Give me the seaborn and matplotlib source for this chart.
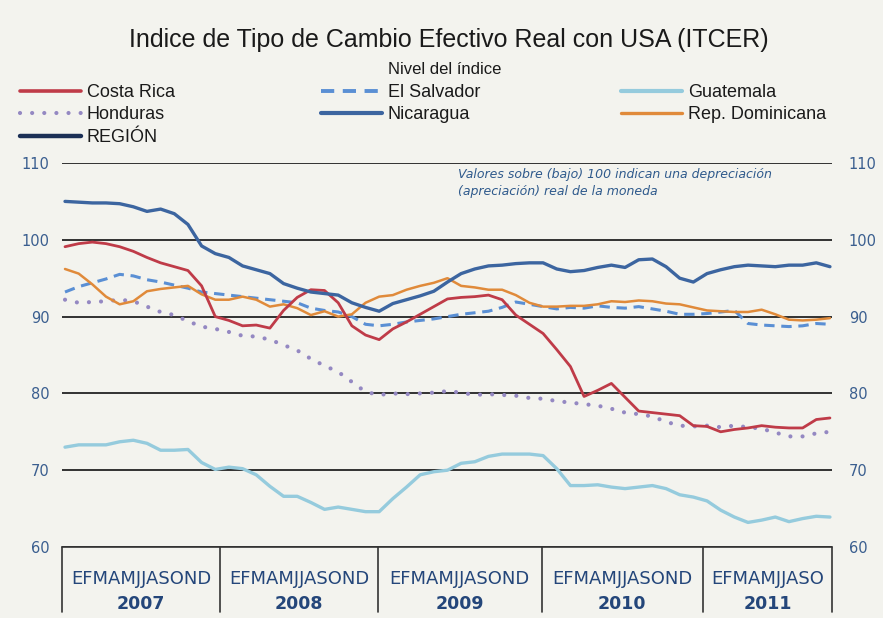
import numpy as np
import pandas as pd
import matplotlib
matplotlib.use("Agg")
import matplotlib.pyplot as plt
import matplotlib.transforms as mtransforms
from matplotlib.lines import Line2D
import seaborn as sns

# ---------------- data ----------------
years = ["2007", "2008", "2009", "2010", "2011"]
month_labels = ["EFMAMJJASOND", "EFMAMJJASOND", "EFMAMJJASOND", "EFMAMJJASOND", "EFMAMJJASO"]

costa_rica = [99.1, 99.5, 99.7, 99.5, 99.1, 98.5, 97.7, 97.0, 96.5, 96.0, 94.0, 90.0,
              89.5, 88.8, 88.9, 88.5, 90.8, 92.5, 93.5, 93.4, 91.8, 88.8, 87.6, 87.0,
              88.4, 89.3, 90.3, 91.3, 92.3, 92.5, 92.6, 92.8, 92.2, 90.2, 89.0, 87.8,
              85.7, 83.5, 79.6, 80.4, 81.3, 79.5, 77.7, 77.5, 77.3, 77.1, 75.8, 75.7,
              75.0, 75.3, 75.5, 75.8, 75.6, 75.5, 75.5, 76.6, 76.8]
el_salvador = [93.2, 93.9, 94.4, 94.9, 95.5, 95.3, 94.8, 94.5, 94.1, 93.7, 93.2, 93.0,
               92.8, 92.6, 92.4, 92.2, 92.0, 91.8, 91.1, 90.8, 90.6, 90.0, 89.0, 88.8,
               89.0, 89.3, 89.5, 89.7, 90.0, 90.3, 90.5, 90.7, 91.2, 91.9, 91.6, 91.3,
               91.0, 91.2, 91.1, 91.4, 91.2, 91.1, 91.3, 91.0, 90.7, 90.3, 90.3, 90.4,
               90.6, 90.8, 89.1, 88.9, 88.8, 88.7, 88.8, 89.1, 89.0]
guatemala = [73.0, 73.3, 73.3, 73.3, 73.7, 73.9, 73.5, 72.6, 72.6, 72.7, 71.0, 70.1,
             70.4, 70.2, 69.4, 67.9, 66.6, 66.6, 65.8, 64.9, 65.2, 64.9, 64.6, 64.6,
             66.3, 67.8, 69.4, 69.8, 70.0, 70.9, 71.1, 71.8, 72.1, 72.1, 72.1, 71.9,
             70.2, 68.0, 68.0, 68.1, 67.8, 67.6, 67.8, 68.0, 67.6, 66.8, 66.5, 66.0,
             64.8, 63.9, 63.2, 63.5, 63.9, 63.3, 63.7, 64.0, 63.9]
honduras = [92.2, 91.8, 91.9, 92.0, 92.2, 92.0, 91.3, 90.6, 90.2, 89.4, 88.7, 88.4,
            88.0, 87.5, 87.4, 87.0, 86.3, 85.6, 84.5, 83.6, 82.8, 81.5, 80.2, 79.8,
            80.0, 79.9, 80.0, 80.1, 80.3, 80.1, 79.8, 79.9, 79.8, 79.7, 79.4, 79.3,
            79.0, 78.8, 78.6, 78.4, 78.0, 77.5, 77.3, 77.0, 76.3, 75.8, 75.7, 75.8,
            75.6, 75.8, 75.6, 75.4, 74.9, 74.4, 74.4, 74.8, 75.0]
nicaragua = [105.0, 104.9, 104.8, 104.8, 104.7, 104.3, 103.7, 104.0, 103.4, 102.0, 99.2, 98.2,
             97.7, 96.6, 96.1, 95.6, 94.3, 93.7, 93.2, 93.0, 92.8, 91.8, 91.2, 90.7,
             91.7, 92.2, 92.7, 93.3, 94.5, 95.6, 96.2, 96.6, 96.7, 96.9, 97.0, 97.0,
             96.2, 95.85, 96.0, 96.4, 96.7, 96.4, 97.4, 97.5, 96.5, 95.0, 94.5, 95.6,
             96.1, 96.5, 96.7, 96.6, 96.5, 96.7, 96.7, 97.0, 96.5]
rep_dominicana = [96.2, 95.6, 94.2, 92.6, 91.6, 92.0, 93.3, 93.6, 93.8, 94.0, 92.9, 92.2,
                  92.2, 92.6, 92.2, 91.3, 91.6, 91.1, 90.2, 90.7, 90.0, 90.3, 91.8, 92.6,
                  92.8, 93.5, 94.0, 94.4, 95.0, 94.0, 93.8, 93.5, 93.5, 92.8, 91.8, 91.3,
                  91.3, 91.4, 91.4, 91.6, 92.0, 91.9, 92.1, 92.0, 91.7, 91.6, 91.2, 90.8,
                  90.7, 90.6, 90.6, 90.9, 90.3, 89.6, 89.5, 89.6, 89.8]
yticks = [60, 70, 80, 90, 100, 110]

series = {
    "Costa Rica": costa_rica,
    "El Salvador": el_salvador,
    "Guatemala": guatemala,
    "Honduras": honduras,
    "Nicaragua": nicaragua,
    "Rep. Dominicana": rep_dominicana,
}
n = len(costa_rica)
df = pd.concat([pd.DataFrame({"mes": np.arange(n), "valor": v, "pais": k})
                for k, v in series.items()], ignore_index=True)

styles = {
    "Costa Rica": dict(color="#bf3b48", lw=2.0, ls="-"),
    "El Salvador": dict(color="#5a8fd4", lw=2.2, ls=(0, (3.4, 2.2))),
    "Guatemala": dict(color="#95cbdd", lw=2.4, ls="-"),
    "Honduras": dict(color="#9488c2", lw=3.0, ls=(0, (0.01, 2.9))),
    "Nicaragua": dict(color="#3c65a0", lw=2.4, ls="-"),
    "Rep. Dominicana": dict(color="#e08a3a", lw=1.8, ls="-"),
}
region_color = "#1b2f55"

BG = "#f3f3ee"
NAVY = "#24467a"
TICKC = "#3a5e8f"
SANS = ["Liberation Sans", "DejaVu Sans"]

sns.set_style("white")
plt.rcParams["font.family"] = ["DejaVu Sans"]

W, H = 883, 618
fig = plt.figure(figsize=(W / 100, H / 100), dpi=100, facecolor=BG)
L, R, T, B = 62, 832, 163, 547
ax = fig.add_axes([L / W, 1 - B / H, (R - L) / W, (B - T) / H])
ax.set_facecolor(BG)

draw_order = ["Guatemala", "Honduras", "El Salvador", "Rep. Dominicana", "Costa Rica", "Nicaragua"]
for name in draw_order:
    st = styles[name]
    line_kw = dict(color=st["color"], linewidth=st["lw"], linestyle=st["ls"])
    if name == "Honduras":
        line_kw["dash_capstyle"] = "round"
    sns.lineplot(data=df[df["pais"] == name], x="mes", y="valor", ax=ax,
                 legend=False, **line_kw)

x0, x1 = -0.22, 56.15
ax.set_xlim(x0, x1)
ax.set_ylim(60, 110)
ax.set_yticks(yticks)
ax.set_xticks([])
ax.set_xlabel("")
ax.set_ylabel("")
for s in ax.spines.values():
    s.set_visible(False)
ax.grid(axis="y", color="#111111", linewidth=1.2)
ax.grid(axis="x", visible=False)
ax.tick_params(axis="y", length=0, pad=9, labelsize=10.5, labelcolor=TICKC)

ax2 = ax.twinx()
ax2.set_ylim(60, 110)
ax2.set_yticks(yticks)
for s in ax2.spines.values():
    s.set_visible(False)
ax2.tick_params(axis="y", length=0, pad=12, labelsize=10.5, labelcolor=TICKC)
ax2.grid(False)

# bottom table (years / months)
trans = mtransforms.blended_transform_factory(ax.transData, ax.transAxes)
bounds = [x0, 11.35, 22.9, 34.9, 46.7, x1]
ybot = (B - 612) / (B - T)
ax.plot([x0, x1], [0, 0], transform=trans, color="#333333", lw=1.2, clip_on=False)
for bx in bounds:
    ax.plot([bx, bx], [0, ybot], transform=trans, color="#333333", lw=1.2, clip_on=False)
ym = (B - 579) / (B - T)
yy = (B - 604) / (B - T)
for i, yr in enumerate(years):
    cx = (bounds[i] + bounds[i + 1]) / 2
    ax.text(cx, ym, month_labels[i], transform=trans, ha="center", va="center",
            fontsize=13, color=NAVY)
    ax.text(cx, yy, yr, transform=trans, ha="center", va="center",
            fontsize=12.5, color=NAVY, fontweight="bold")

# annotation
fig.text(458 / W, 1 - 183 / H,
         "Valores sobre (bajo) 100 indican una depreciación\n(apreciación) real de la moneda",
         ha="left", va="center", fontsize=9, style="italic", color="#2f5a8c",
         linespacing=1.45)

# titles
fig.text(449 / W, 1 - 40 / H, "Indice de Tipo de Cambio Efectivo Real con USA (ITCER)",
         ha="center", va="center", fontsize=18, family=SANS, color="#1a1a1a")
fig.text(445 / W, 1 - 70 / H, "Nivel del índice", ha="center", va="center",
         fontsize=12, family=SANS, color="#1a1a1a")

# legends (three columns)
def mk(name):
    st = styles[name]
    kw = dict(color=st["color"], lw=st["lw"] + 0.6 if name != "Honduras" else st["lw"],
              ls=st["ls"])
    if name == "Honduras":
        kw["dash_capstyle"] = "round"
    return Line2D([], [], **kw)

cols = [
    ([mk("Costa Rica"), mk("Honduras"), Line2D([], [], color=region_color, lw=3.2)],
     ["Costa Rica", "Honduras", "REGIÓN"], 20),
    ([mk("El Salvador"), mk("Nicaragua")], ["El Salvador", "Nicaragua"], 321),
    ([mk("Guatemala"), mk("Rep. Dominicana")], ["Guatemala", "Rep. Dominicana"], 621),
]
for handles, labels, xl in cols:
    leg = fig.legend(handles, labels, loc="upper left",
                     bbox_to_anchor=(xl / W, 1 - 84 / H), frameon=False,
                     handlelength=3.4, handletextpad=0.3, labelspacing=0.3,
                     borderpad=0, borderaxespad=0,
                     prop={"family": SANS, "size": 13})
    for t in leg.get_texts():
        t.set_color("#1a1a1a")

fig.savefig("out.png", dpi=100, facecolor=BG)
